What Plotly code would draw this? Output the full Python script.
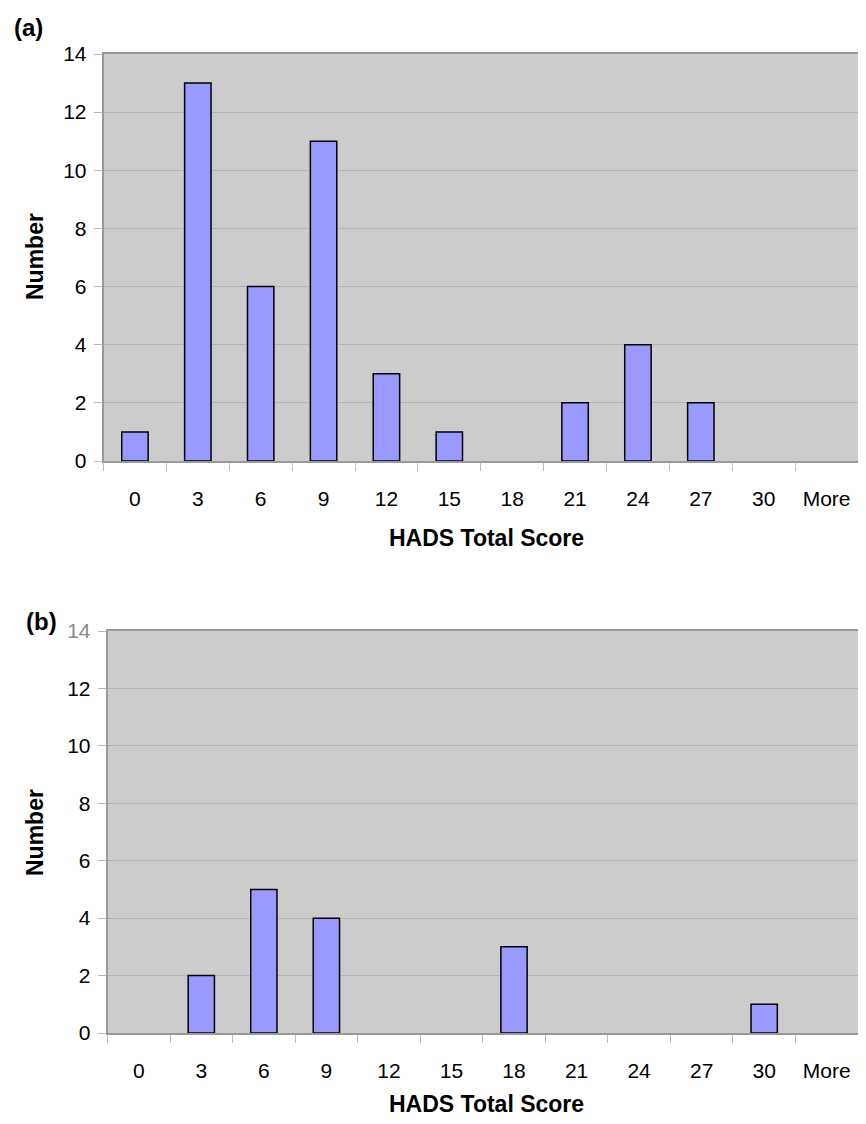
import plotly.graph_objects as go

categories = ["0", "3", "6", "9", "12", "15", "18", "21", "24", "27", "30", "More"]
counts_a = [1, 13, 6, 11, 3, 1, 0, 2, 4, 2, 0, 0]
counts_b = [0, 2, 5, 4, 0, 0, 3, 0, 0, 0, 1, 0]
y_ticks = [0, 2, 4, 6, 8, 10, 12, 14]

# page body has an 8px margin; figure sized to fit inside the viewport
OFF_X, OFF_Y = 8, 8
W, H = 850, 1108
FONT = "Liberation Sans, Arial, sans-serif"

def px_x(p):
    return min(1.0, max(0.0, (p - OFF_X) / W))

def px_y(p):
    return min(1.0, max(0.0, 1 - (p - OFF_Y) / H))

def nz(vals):
    return [v if v else None for v in vals]

fig = go.Figure()
bar_style = dict(marker=dict(color="#9999ff", line=dict(color="#000000", width=1.5)),
                 width=0.42, showlegend=False, hoverinfo="x+y")
fig.add_trace(go.Bar(x=categories, y=nz(counts_a), xaxis="x", yaxis="y", **bar_style))
fig.add_trace(go.Bar(x=categories, y=nz(counts_b), xaxis="x2", yaxis="y2", **bar_style))

xaxis_common = dict(type="category", automargin=False, showgrid=False, showline=True,
                    linecolor="#999999", linewidth=1.5, mirror=True, ticks="outside",
                    tickson="boundaries", ticklen=8, tickcolor="#bbbbbb", tickwidth=1,
                    ticklabelstandoff=18,
                    tickfont=dict(family=FONT, size=21, color="#000"), zeroline=False,
                    categoryorder="array", categoryarray=categories, fixedrange=True)
yaxis_common = dict(range=[0, 14], tickvals=y_ticks, automargin=False, showgrid=True,
                    gridcolor="#b3b3b3", gridwidth=1, showline=True, linecolor="#999999",
                    linewidth=1.5, ticks="outside", ticklen=8,
                    tickcolor="#bbbbbb", ticklabelstandoff=3,
                    tickfont=dict(family=FONT, size=21, color="#000"), zeroline=False,
                    fixedrange=True)

ytext_b = [str(v) for v in y_ticks]
ytext_b[-1] = "<span style='color:#8a8a8a'>14</span>"

fig.update_layout(
    width=W, height=H, margin=dict(l=0, r=0, t=0, b=0, pad=0, autoexpand=False),
    paper_bgcolor="white", plot_bgcolor="#cccccc",
    xaxis=dict(domain=[px_x(103.5), px_x(866)], anchor="y", **xaxis_common),
    yaxis=dict(domain=[px_y(461), px_y(54)], anchor="x", mirror=False, **yaxis_common),
    xaxis2=dict(domain=[px_x(107.5), px_x(864)], anchor="y2", **xaxis_common),
    yaxis2=dict(domain=[px_y(1033), px_y(631)], anchor="x2", mirror=True,
                ticktext=ytext_b, **yaxis_common),
)

ann = []
def add_ann(text, x, y, size, angle=0, xanchor="center"):
    ann.append(dict(text=text, x=px_x(x), y=px_y(y), xref="paper", yref="paper",
                    showarrow=False, textangle=angle, xanchor=xanchor, yanchor="middle",
                    font=dict(family=FONT, size=size, color="#000")))

add_ann("<b>(a)</b>", 12, 27, 24, xanchor="left")
add_ann("<b>(b)</b>", 24, 621, 24, xanchor="left")
add_ann("<b>Number</b>", 35, 256, 23, angle=-90)
add_ann("<b>Number</b>", 35, 832, 23, angle=-90)
add_ann("<b>HADS Total Score</b>", 486, 538, 23)
add_ann("<b>HADS Total Score</b>", 486, 1104, 23)
fig.update_layout(annotations=ann)

fig.write_html("out.html")
